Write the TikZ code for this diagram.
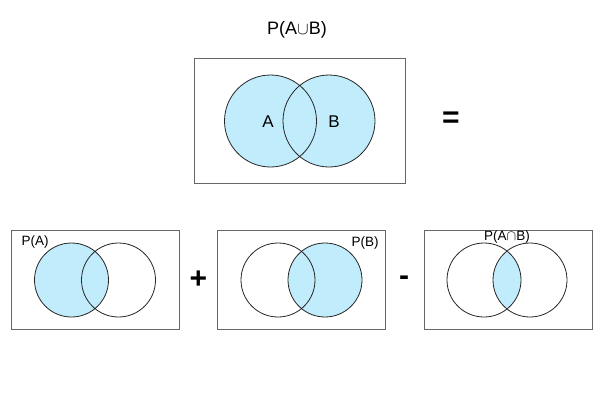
\documentclass[tikz,border=0pt]{standalone}
\usepackage{fontspec}
\setmainfont{Liberation Sans}
\definecolor{vennblue}{RGB}{192,236,252}

\begin{document}
\begin{tikzpicture}[
            x = 1pt, y = -1pt, % one pixel of the page
            box/.style = {draw=black!60, line width=0.8pt, minimum width=168pt,
                          minimum height=99pt, inner sep=0pt},
            ring/.style = {draw=black!85, line width=0.8pt},
            shade/.style = {fill=vennblue},
            small/.style = {font=\fontsize{13.5}{13.5}\selectfont, inner sep=0pt},
            sign/.style = {font=\bfseries\fontsize{30}{30}\selectfont, inner sep=0pt}
        ]
	\useasboundingbox (0,0) rectangle (600,400);

	% union on top
	\node[font=\fontsize{18}{18}\selectfont] (title) at (297,30) {P(A$\cup$B)};
	\node[box, minimum width=211pt, minimum height=125pt] (union) at (299.5,120.5) {};
	\coordinate (ua) at (270.5,121);
	\coordinate (ub) at (329,121);
	\fill[shade] (ua) circle (46) (ub) circle (46);
	\draw[ring] (ua) circle (46) (ub) circle (46);
	\node[font=\fontsize{17}{17}\selectfont] (la) at (268,122) {A};
	\node[font=\fontsize{17}{17}\selectfont] (lb) at (334,122) {B};
	\node[sign] (eq) at (451,120) {=};

	% P(A)
	\node[box] (boxa) at (95,279.5) {};
	\coordinate (aa) at (71.5,280);
	\coordinate (ab) at (118.5,280);
	\fill[shade] (aa) circle (37);
	\draw[ring] (aa) circle (37) (ab) circle (37);
	\node[small] (pa) at (35,242) {P(A)};
	\node[sign] (plus) at (198.5,280) {+};

	% P(B)
	\node[box] (boxb) at (301,279.5) {};
	\coordinate (ba) at (278,280);
	\coordinate (bb) at (325,280);
	\fill[shade] (bb) circle (37);
	\draw[ring] (ba) circle (37) (bb) circle (37);
	\node[small] (pb) at (365,243) {P(B)};
	\node[sign] (minus) at (404,281) {-};

	% P(A and B)
	\node[box] (boxab) at (508,279.5) {};
	\coordinate (ca) at (484,280);
	\coordinate (cb) at (530,280);
	\begin{scope}
		\clip (ca) circle (37);
		\fill[shade] (cb) circle (37);
	\end{scope}
	\draw[ring] (ca) circle (37) (cb) circle (37);
	\node[small] (pab) at (507,237) {P(A$\cap$B)};

\end{tikzpicture}
\end{document}
